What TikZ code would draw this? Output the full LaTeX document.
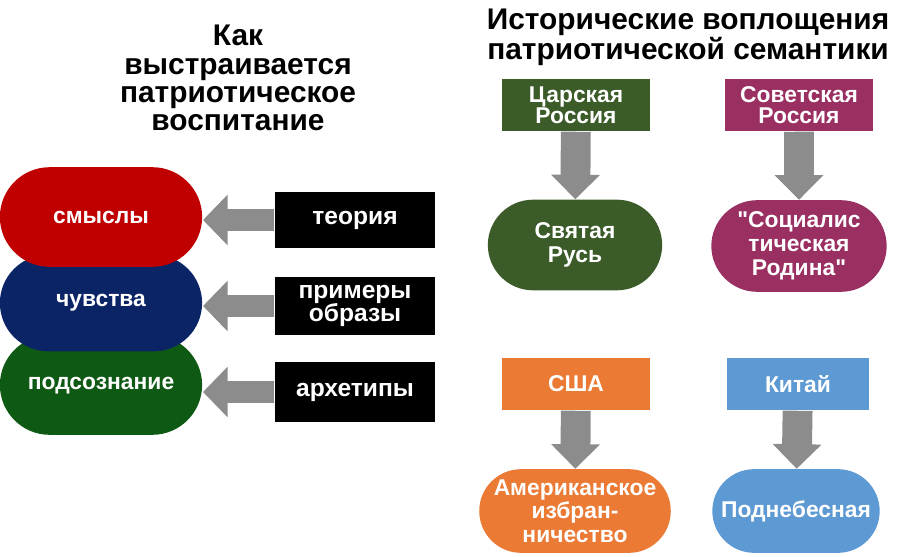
\documentclass[tikz,border=0pt]{standalone}
\usepackage{fontspec}
\setmainfont{Liberation Sans}
\newfontfamily\qfont{Liberation Sans}
\newcommand{\sq}{{\qfont\bfseries"}}
\usetikzlibrary{arrows.meta,shapes.misc}
\definecolor{smred}{HTML}{C00000}
\definecolor{chnavy}{HTML}{0A2466}
\definecolor{pdgreen}{HTML}{0E5A14}
\definecolor{tsgreen}{HTML}{3B5B29}
\definecolor{svmaroon}{HTML}{9A2F62}
\definecolor{usorange}{HTML}{EB7A35}
\definecolor{cnblue}{HTML}{5D9AD3}
\definecolor{arrgray}{HTML}{8C8C8C}
\tikzset{
  pill/.style={rounded rectangle, text=white, font=\bfseries\fontsize{13}{13.5}\selectfont, align=center, inner sep=0pt},
  blackbox/.style={fill=black, text=white, font=\bfseries\fontsize{14}{13.5}\selectfont, align=center, minimum width=161*0.567pt, inner sep=0pt},
  eraBox/.style={text=white, font=\bfseries\fontsize{13}{12}\selectfont, align=center, minimum width=148*0.567pt, minimum height=53*0.567pt, inner sep=0pt},
  fatarrow/.style={draw=arrgray, line width=13pt, -{Triangle[length=14pt,width=28pt]}},
  downarrow/.style={draw=arrgray, line width=17pt, -{Triangle[length=14pt,width=27pt]}},
  heading/.style={font=\bfseries\fontsize{17}{16}\selectfont, align=center}
}
\begin{document}
\begin{tikzpicture}[x=0.02cm, y=-0.02cm]
\useasboundingbox (0,0) rectangle (915,557);
%		left column
\node[heading] (howtitle) at (238,78) {Как\\выстраивается\\патриотическое\\воспитание};
\node[pill, fill=pdgreen, minimum width=203*0.567pt, minimum height=100*0.567pt] (podsozn) at (101,385) {};
\node[pill, fill=chnavy, minimum width=203*0.567pt, minimum height=97*0.567pt] (chuvstva) at (101,303) {};
\node[pill, fill=smred, minimum width=203*0.567pt, minimum height=100*0.567pt] (smysly) at (101,217) {смыслы};
\node[font=\bfseries\fontsize{13}{13}\selectfont, text=white] (chText) at (101,303) {чувства};
\node[font=\bfseries\fontsize{13}{13}\selectfont, text=white] (pdText) at (101,386) {подсознание};
\node[blackbox, minimum height=57*0.567pt] (teoria) at (355,220) {теория};
\node[blackbox, minimum height=59*0.567pt] (primery) at (355,306) {примеры\\образы};
\node[blackbox, minimum height=60*0.567pt] (arhetipy) at (355,392) {архетипы};
\coordinate (smEnd) at (203,220);
\coordinate (chEnd) at (203,306);
\coordinate (pdEnd) at (203,392);
\draw[fatarrow] (teoria.west) -- (smEnd);
\draw[fatarrow] (primery.west) -- (chEnd);
\draw[fatarrow] (arhetipy.west) -- (pdEnd);
%		right column
\node[heading] (histitle) at (688,37) {Исторические воплощения\\патриотической семантики};
\node[eraBox, fill=tsgreen] (tsar) at (576,105) {Царская\\Россия};
\node[eraBox, fill=svmaroon] (sovet) at (799,105) {Советская\\Россия};
\node[eraBox, fill=usorange] (usa) at (576,384) {США};
\node[eraBox, fill=cnblue, minimum width=143*0.567pt] (china) at (798,384) {Китай};
\node[pill, fill=tsgreen, minimum width=175*0.567pt, minimum height=91*0.567pt] (rus) at (575,245) {Святая\\Русь};
\node[pill, fill=svmaroon, minimum width=176*0.567pt, minimum height=92*0.567pt] (rodina) at (799,246) {\sq Социалис\\тическая\\Родина\sq};
\node[pill, fill=usorange, minimum width=175*0.567pt, minimum height=84*0.567pt] (amer) at (575,511) {Американское\\избран-\\ничество};
\node[pill, fill=cnblue, minimum width=168*0.567pt, minimum height=84*0.567pt] (podneb) at (796,511) {Поднебесная};
\draw[downarrow] (tsar) -- (rus);
\draw[downarrow] (sovet) -- (rodina);
\draw[downarrow] (usa) -- (amer);
\draw[downarrow] (china) -- (podneb);
\end{tikzpicture}
\end{document}
